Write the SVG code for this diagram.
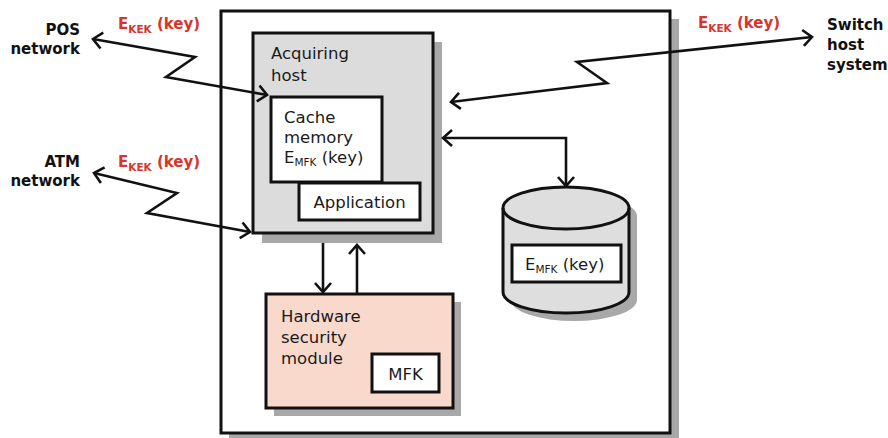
<svg xmlns="http://www.w3.org/2000/svg" width="888" height="438" viewBox="0 0 888 438">
  <defs>
    <marker id="chev" markerUnits="userSpaceOnUse" markerWidth="14" markerHeight="20" refX="11" refY="10" orient="auto-start-reverse" overflow="visible">
      <path d="M2,2 L11,10 L2,18" fill="none" stroke="#111" stroke-width="2.6" stroke-linejoin="miter"/>
    </marker>
  </defs>
  <style>
    .box { stroke: #111; stroke-width: 3; }
    .shadow { fill: #a8a8a8; }
    .lbl { font-family: "DejaVu Sans", "Open Sans", sans-serif; font-size: 16.5px; fill: #1a1a1a; }
    .ext { font-family: "DejaVu Sans", "Open Sans", sans-serif; font-size: 15px; font-weight: bold; fill: #111; }
    .key { font-family: "DejaVu Sans", "Open Sans", sans-serif; font-size: 15px; font-weight: bold; fill: #d9342b; }
    .sub { font-size: 10.5px; }
    .wire { fill: none; stroke: #111; stroke-width: 2.6; stroke-linejoin: miter; marker-start: url(#chev); marker-end: url(#chev); }
    .one { fill: none; stroke: #111; stroke-width: 2.6; marker-end: url(#chev); }
  </style>
  <rect width="888" height="438" fill="#ffffff"/>

  <!-- outer system boundary -->
  <g id="system">
    <rect class="shadow" x="229" y="19" width="450" height="422"/>
    <rect class="box" x="221" y="11" width="449" height="422" fill="#ffffff"/>
  </g>

  <!-- external parties -->
  <g id="pos">
    <text class="ext" x="80" y="35" text-anchor="end">POS</text>
    <text class="ext" x="80" y="54" text-anchor="end">network</text>
  </g>
  <g id="atm">
    <text class="ext" x="80" y="167" text-anchor="end">ATM</text>
    <text class="ext" x="80" y="186" text-anchor="end">network</text>
  </g>
  <g id="switch">
    <text class="ext" x="827" y="30">Switch</text>
    <text class="ext" x="827" y="50">host</text>
    <text class="ext" x="827" y="70">system</text>
  </g>

  <!-- acquiring host -->
  <g id="acquiring-host">
    <rect class="shadow" x="262" y="42" width="180" height="201"/>
    <rect class="box" x="253" y="33" width="180" height="200" fill="#dcdcdc"/>
    <text class="lbl" x="271" y="59">Acquiring</text>
    <text class="lbl" x="271" y="81">host</text>
  </g>
  <g id="cache-memory">
    <rect class="box" x="271" y="97" width="111" height="85" fill="#ffffff"/>
    <text class="lbl" x="284" y="123">Cache</text>
    <text class="lbl" x="284" y="143">memory</text>
    <text class="lbl" x="284" y="163">E<tspan class="sub" dy="3">MFK</tspan><tspan dy="-3"> (key)</tspan></text>
  </g>
  <g id="application">
    <rect class="box" x="299" y="183" width="121" height="37" fill="#ffffff"/>
    <text class="lbl" x="359.5" y="208" text-anchor="middle">Application</text>
  </g>

  <!-- hardware security module -->
  <g id="hsm">
    <rect class="shadow" x="274" y="302" width="187" height="114"/>
    <rect class="box" x="266" y="294" width="187" height="114" fill="#f8d9cc"/>
    <text class="lbl" x="281" y="322">Hardware</text>
    <text class="lbl" x="281" y="343">security</text>
    <text class="lbl" x="281" y="364">module</text>
  </g>
  <g id="mfk">
    <rect class="box" x="372" y="354" width="67" height="38" fill="#ffffff"/>
    <text class="lbl" x="405.5" y="380" text-anchor="middle">MFK</text>
  </g>

  <!-- key database -->
  <g id="database">
    <path class="shadow" d="M511,216 A63,21 0 0 1 637,216 L637,300 A63,21 0 0 1 511,300 Z"/>
    <path class="box" d="M503,208 A63,21 0 0 1 629,208 L629,292 A63,21 0 0 1 503,292 Z" fill="#dedede"/>
    <path d="M503,208 A63,21 0 0 0 629,208" fill="none" stroke="#111" stroke-width="3"/>
    <rect class="box" x="512" y="245" width="109" height="37" fill="#ffffff"/>
    <text class="lbl" x="525" y="270">E<tspan class="sub" dy="3">MFK</tspan><tspan dy="-3"> (key)</tspan></text>
  </g>

  <!-- key labels -->
  <g id="key-labels">
    <text class="key" x="118" y="29">E<tspan class="sub" dy="4">KEK</tspan><tspan dy="-4"> (key)</tspan></text>
    <text class="key" x="118" y="167">E<tspan class="sub" dy="4">KEK</tspan><tspan dy="-4"> (key)</tspan></text>
    <text class="key" x="698" y="28">E<tspan class="sub" dy="4">KEK</tspan><tspan dy="-4"> (key)</tspan></text>
  </g>

  <!-- connectors -->
  <g id="connectors">
    <polyline class="wire" points="93,39 195,57 166,77 267,95"/>
    <polyline class="wire" points="94,173 177,193 147,213 250,232"/>
    <polyline class="wire" points="812,37 577,62 607,83 451,102"/>
    <polyline class="wire" points="443,138 566,138 566,186"/>
    <line class="one" x1="323" y1="243" x2="323" y2="292"/>
    <line class="one" x1="357" y1="294" x2="357" y2="245"/>
  </g>
</svg>
